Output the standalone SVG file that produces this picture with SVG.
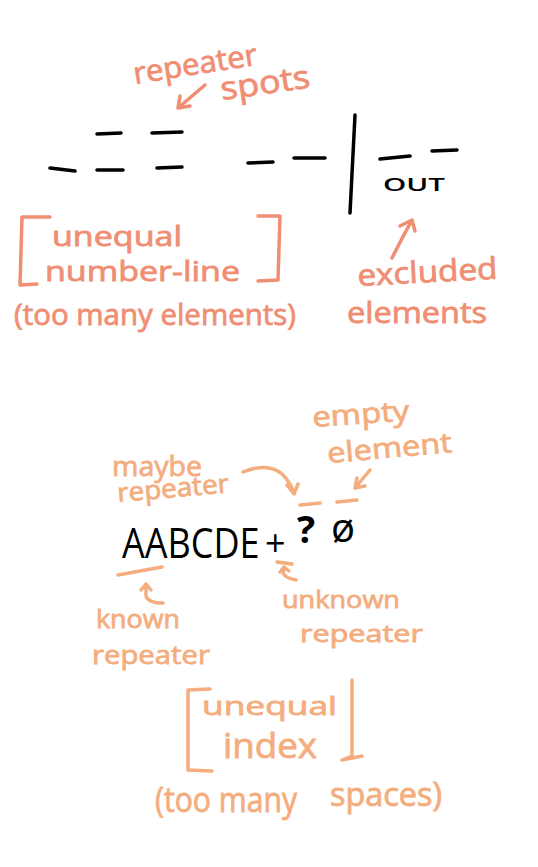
<svg xmlns="http://www.w3.org/2000/svg" width="538" height="867" viewBox="0 0 538 867">
<style>
.s{fill:none;stroke:#f08e74;stroke-width:3.5;stroke-linecap:round;stroke-linejoin:round}
.p{fill:none;stroke:#f4ad7e;stroke-width:3.5;stroke-linecap:round;stroke-linejoin:round}
.k{fill:none;stroke:#000;stroke-width:3.5;stroke-linecap:round}
.ts{fill:#f08e74;stroke:#f08e74;stroke-width:0.8;font-family:"Open Sans","DejaVu Sans",sans-serif}
.tp{fill:#f4ad7e;stroke:#f4ad7e;stroke-width:0.8;font-family:"Open Sans","DejaVu Sans",sans-serif}
.tk{fill:#000;font-family:"Open Sans","DejaVu Sans",sans-serif}
</style>
<rect width="538" height="867" fill="#fff"/>
<g id="connectors">
<path class="s" d="M205,85 L178,108 M178,108 L180,96 M178,108 L190,106"/>
<path class="s" d="M392,258 Q402,238 412,220 M412,220 L400,226 M412,220 L415,231"/>
<path class="p" d="M370,470 L355,488 M355,488 L357,478 M355,488 L365,486"/>
<path class="p" d="M243,472 Q268,462 282,474 Q292,484 294,494 M294,494 L287,485 M294,494 L298,484"/>
<path class="p" d="M163,603 Q148,603 146,596 L146,584 M146,584 L141,590 M146,584 L151,590"/>
<path class="p" d="M296,580 Q284,578 283,572 L284,567 M284,567 L280,572 M284,567 L289,571"/>
</g>
<g id="number-line">
<path class="k" d="M50,168 L75,171 M97,170 L123,170 M97,134 L121,133 M152,133 L182,132 M157,168 L182,167 M248,163 L273,162 M294,158 L325,158 M355,115 L350,213 M380,159 L410,156 M432,151 L457,150"/>
<text class="tk" x="383" y="191" font-size="18" font-weight="600" textLength="62" lengthAdjust="spacingAndGlyphs">OUT</text>
</g>
<g id="repeater-spots">
<text class="ts" x="135" y="84" font-size="30" textLength="125" lengthAdjust="spacingAndGlyphs" transform="rotate(-9 135 84)">repeater</text>
<text class="ts" x="222" y="100" font-size="32" textLength="90" lengthAdjust="spacingAndGlyphs" transform="rotate(-8 222 100)">spots</text>
</g>
<g id="unequal-number-line">
<path class="s" d="M50,217 L22,217 L20,285 L37,284 M258,216 L280,216 L278,280 L258,281"/>
<text class="ts" x="52" y="246" font-size="28" textLength="130" lengthAdjust="spacingAndGlyphs">unequal</text>
<text class="ts" x="45" y="281" font-size="28" textLength="195" lengthAdjust="spacingAndGlyphs">number-line</text>
<text class="ts" x="14" y="325" font-size="30" textLength="282" lengthAdjust="spacingAndGlyphs">(too many elements)</text>
</g>
<g id="excluded-elements">
<text class="ts" x="358" y="286" font-size="30" textLength="140" lengthAdjust="spacingAndGlyphs" transform="rotate(-3 358 286)">excluded</text>
<text class="ts" x="347" y="323" font-size="30" textLength="140" lengthAdjust="spacingAndGlyphs">elements</text>
</g>
<g id="index">
<text class="tk" x="0" y="0" font-size="36" transform="translate(122,558) scale(1,1.17)">AABCDE</text>
<text class="tk" x="265" y="556" font-size="36">+</text>
<text class="tk" x="297" y="543" font-size="38" font-weight="bold">?</text>
<text class="tk" x="331" y="542" font-size="40">ø</text>
<path class="p" d="M300,505 L320,503 M337,502 L357,500 M118,575 L162,567 M277,562 L292,564"/>
</g>
<g id="empty-element">
<text class="tp" x="313" y="427" font-size="28" textLength="97" lengthAdjust="spacingAndGlyphs" transform="rotate(-4 313 427)">empty</text>
<text class="tp" x="328" y="463" font-size="28" textLength="125" lengthAdjust="spacingAndGlyphs" transform="rotate(-5 328 463)">element</text>
</g>
<g id="maybe-repeater">
<text class="tp" x="112" y="476" font-size="28" textLength="90" lengthAdjust="spacingAndGlyphs">maybe</text>
<text class="tp" x="118" y="502" font-size="26" textLength="112" lengthAdjust="spacingAndGlyphs" transform="rotate(-5 118 502)">repeater</text>
</g>
<g id="known-repeater">
<text class="tp" x="96" y="628" font-size="26" textLength="84" lengthAdjust="spacingAndGlyphs">known</text>
<text class="tp" x="92" y="664" font-size="26" textLength="118" lengthAdjust="spacingAndGlyphs">repeater</text>
</g>
<g id="unknown-repeater">
<text class="tp" x="282" y="608" font-size="24" textLength="118" lengthAdjust="spacingAndGlyphs">unknown</text>
<text class="tp" x="300" y="642" font-size="24" textLength="123" lengthAdjust="spacingAndGlyphs">repeater</text>
</g>
<g id="unequal-index">
<path class="p" d="M210,689 L188,690 L188,770 L212,771 M352,680 L352,756 L342,760 L362,756"/>
<text class="tp" x="202" y="715" font-size="26" textLength="135" lengthAdjust="spacingAndGlyphs">unequal</text>
<text class="tp" x="223" y="758" font-size="34" textLength="94" lengthAdjust="spacingAndGlyphs">index</text>
<text class="tp" x="155" y="812" font-size="34" textLength="142" lengthAdjust="spacingAndGlyphs">(too many</text>
<text class="tp" x="330" y="806" font-size="32" textLength="112" lengthAdjust="spacingAndGlyphs">spaces)</text>
</g>
</svg>
